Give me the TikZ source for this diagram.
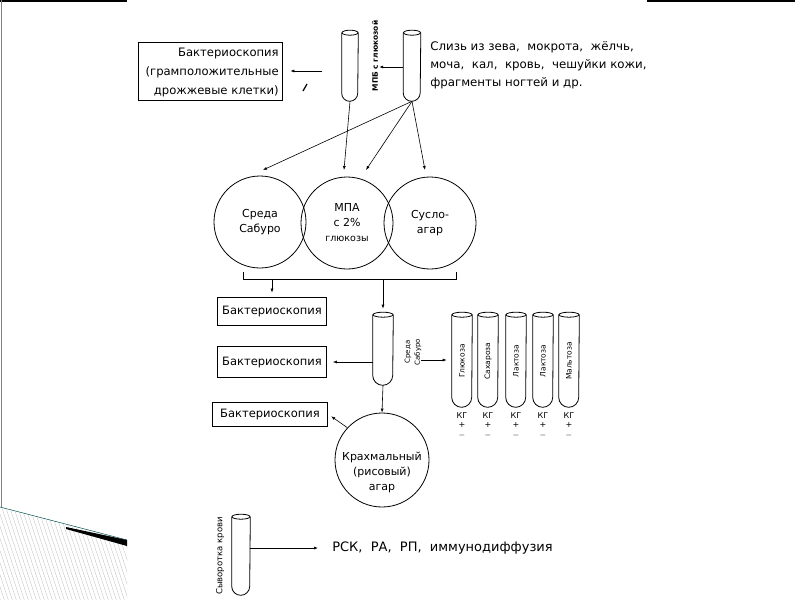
\documentclass[tikz,border=0pt]{standalone}
\usepackage{fontspec}
\setmainfont{DejaVu Sans}
\usetikzlibrary{arrows.meta,calc}

% test tube drawn round an empty node: #1 node, #2 half width
\newcommand{\probirka}[2]{%
  \draw[line width=0.8pt] (#1.north west) -- ([yshift=#2pt]#1.south west)
    arc[start angle=180, end angle=360, radius=#2pt] -- (#1.north east);
  \draw[line width=0.8pt] (#1.north) ellipse [x radius=#2pt, y radius=2.5pt];
}

\begin{document}
\begin{tikzpicture}[x=1pt, y=-1pt, >={Latex[length=4pt,width=3pt]}, line width=0.6pt]

\tikzstyle{box} = [rectangle, draw, line width=0.8pt, inner sep=0pt, font=\fontsize{11.5}{15}\selectfont]
\tikzstyle{tube} = [rectangle, inner sep=0pt]
\tikzstyle{dish} = [circle, draw, line width=0.8pt, minimum size=92pt, inner sep=0pt, align=center, font=\fontsize{11}{15}\selectfont]
\tikzstyle{vlab} = [rotate=90, inner sep=0pt, font=\fontsize{7.5}{10}\selectfont]
\tikzstyle{txt} = [inner sep=0pt, font=\fontsize{11.8}{18}\selectfont]
\tikzstyle{kg} = [inner sep=0pt, align=center, font=\fontsize{8}{9.5}\selectfont]

\useasboundingbox (0,0) rectangle (800,600);

% slide frame
\draw[line width=1.5pt] (0,1) -- (127,1);
\draw[line width=1.5pt] (647,1) -- (795,1);
\draw[gray, line width=1pt] (1,0) -- (1,507);
\begin{scope}
\clip (0,508) -- (127,541) -- (127,600) -- (0,600) -- cycle;
\foreach \i in {-60,-56,...,130} \draw[gray!45, line width=0.4pt] (\i,490) -- ++(38,115);
\end{scope}
\draw[teal!60!black, line width=0.5pt] (0,507) -- (127,540);
\fill (66,527) -- (127,540) -- (127,546) -- (66,529) -- cycle;

% top row
\node[box, minimum width=144pt, minimum height=58pt] (bakt1) at (210,71) {};
\node[inner sep=0pt, anchor=east, align=right, font=\fontsize{11.6}{19}\selectfont] (bakt1t) at (279,72)
  {Бактериоскопия\\(грамположительные\\дрожжевые клетки)};
\node[tube, minimum width=16pt, minimum height=68pt] (mpb) at (350,67) {};
\node[tube, minimum width=17pt, minimum height=68pt] (prob) at (412,67) {};
\node[vlab, font=\fontsize{7.5}{10}\bfseries] (mpblab) at (375,56) {МПБ с глюкозой};
\node[txt, anchor=north west, align=left] (mat) at (430,41)
  {Слизь из зева,\ \ мокрота,\ \ жёлчь,\\моча,\ \ кал,\ \ кровь,\ \ чешуйки кожи,\\фрагменты ногтей и др.};
\coordinate (a1) at (322,71);
\draw[line width=1.2pt] (303,91) -- (307,84);

% dishes
\node[dish] (sab) at (260,222) {Среда\\Сабуро};
\node[dish] (mpa) at (347,223) {МПА\\с 2\%\\{\fontsize{9.5}{12}\selectfont глюкозы}};
\node[dish] (susl) at (430,223) {Сусло-\\агар};
\coordinate (c1) at (263,170);
\coordinate (c2) at (344,170);
\coordinate (c3) at (366,170);
\coordinate (c4) at (425,170);
\coordinate (brL) at (243,279);
\coordinate (brR) at (456,279);

% middle row
\node[box, minimum width=109pt, minimum height=28pt] (bakt2) at (272,311) {Бактериоскопия};
\node[box, minimum width=109pt, minimum height=31pt] (bakt3) at (272,362) {Бактериоскопия};
\node[box, minimum width=115pt, minimum height=24pt] (bakt4) at (270,414) {Бактериоскопия};
\node[tube, minimum width=20pt, minimum height=70pt] (sabt) at (383,350) {};
\node[vlab, align=center, font=\fontsize{7}{10}\selectfont] (sablab) at (413,352) {Среда\\Сабуро};
\coordinate (a2) at (421,360);

% sugars
\node[tube, minimum width=20pt, minimum height=92pt] (s1) at (462,361) {};
\node[tube, minimum width=20pt, minimum height=92pt] (s2) at (488,361) {};
\node[tube, minimum width=20pt, minimum height=92pt] (s3) at (516,361) {};
\node[tube, minimum width=20pt, minimum height=92pt] (s4) at (543,361) {};
\node[tube, minimum width=20pt, minimum height=92pt] (s5) at (569,361) {};
\node[vlab] (l1) at (s1) {Глюкоза};
\node[vlab] (l2) at (s2) {Сахароза};
\node[vlab] (l3) at (s3) {Лактоза};
\node[vlab] (l4) at (s4) {Лактоза};
\node[vlab] (l5) at (s5) {Мальтоза};
\node[kg] (k1) at (462,425) {КГ\\+\\$-$};
\node[kg] (k2) at (488,425) {КГ\\+\\$-$};
\node[kg] (k3) at (516,425) {КГ\\+\\$-$};
\node[kg] (k4) at (543,425) {КГ\\+\\$-$};
\node[kg] (k5) at (569,425) {КГ\\+\\$-$};

\node[dish, minimum size=94pt] (krah) at (382,460) {};
\node[inner sep=0pt, align=center, font=\fontsize{11}{15}\selectfont] (krahlab) at (382,472)
  {Крахмальный\\(рисовый)\\агар};

% serum
\node[tube, minimum width=18pt, minimum height=78pt] (syv) at (241,556) {};
\node[vlab, font=\fontsize{8.5}{10}\selectfont] (syvlab) at (220,556) {Сыворотка крови};
\node[txt, anchor=west, font=\fontsize{13}{15}\selectfont] (reak) at (332,548) {РСК,\ \ РА,\ \ РП,\ \ иммунодиффузия};

% tubes
\probirka{mpb}{8}
\probirka{prob}{8.5}
\probirka{sabt}{10}
\probirka{s1}{10}
\probirka{s2}{10}
\probirka{s3}{10}
\probirka{s4}{10}
\probirka{s5}{10}
\probirka{syv}{9}

% connectors
\draw[->] (a1) -- ([xshift=8pt]bakt1.east);
\draw[->, shorten >=1pt] (prob.west) -- (prob.west -| mpblab.south);
\draw[->] (mpb.south) -- (c2);
\draw[->] (prob.south) -- (c1);
\draw[->] (prob.south) -- (c3);
\draw[->] (prob.south) -- (c4);
\draw ([yshift=7pt]brL) -- (brL) -- (brR) -- ([yshift=7pt]brR);
\draw[->, shorten >=4pt] (brL -| bakt2) -- (bakt2.north);
\draw[->, shorten >=6pt] (brL -| sabt) -- (sabt.north);
\draw[->, shorten >=6pt] (sabt.west |- bakt3) -- (bakt3.east);
\draw[->, shorten >=5pt] (a2) -- (s1.west |- a2);
\draw[->] (sabt.south) -- (krah.north);
\draw[->, shorten >=4pt] (krah.137) -- (bakt4.east);
\draw[->, shorten >=14pt] (syv.east |- reak.west) -- (reak.west);

\end{tikzpicture}
\end{document}
